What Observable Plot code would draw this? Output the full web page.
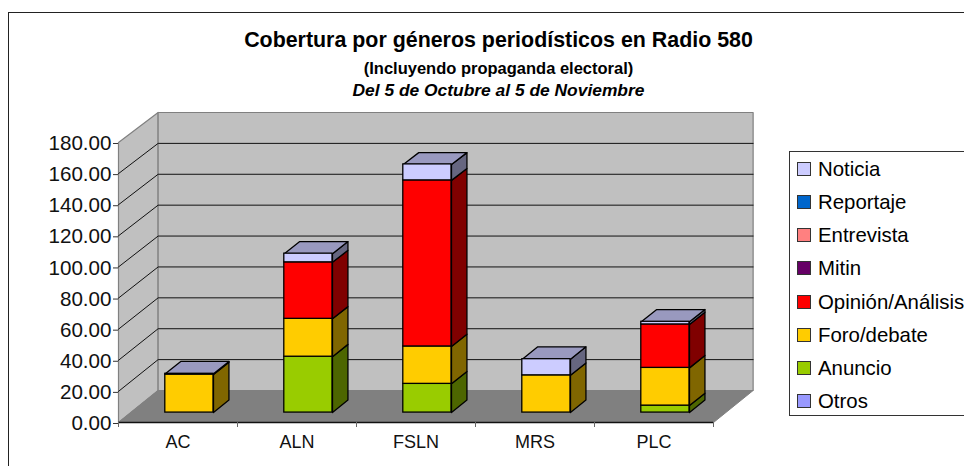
<!DOCTYPE html>
<html><head><meta charset="utf-8">
<script src="https://cdn.jsdelivr.net/npm/d3@7"></script>
<script src="https://cdn.jsdelivr.net/npm/@observablehq/plot@0.6"></script>
<style>
html,body{margin:0;padding:0;background:#fff;overflow:hidden;width:964px;height:466px;font-family:"Liberation Sans",Arial,sans-serif;color:#000}
#wrap{position:relative;width:964px;height:466px;overflow:hidden}
#frame{position:absolute;left:7.5px;top:12px;width:1000px;height:500px;border:1.5px solid #222;box-sizing:border-box}
#chart{position:absolute;left:0;top:0}
.t{position:absolute;left:0;width:997px;text-align:center;white-space:nowrap;transform:translateY(-50%)}
#legend{position:absolute;left:789px;top:151px;width:300px;height:265px;border:1px solid #333;box-sizing:border-box;background:#fff}
.row{position:absolute;left:7px;font-size:20.4px;line-height:22px;white-space:nowrap;transform:translateY(-50%)}
.sw{position:absolute;left:0;top:4px;width:14px;height:14px;border:1px solid #333;box-sizing:border-box}
.lab{margin-left:21px}
</style></head><body>
<div id="wrap"><div id="frame"></div><div id="chart"></div>
<div class="t" style="top:40px;font-weight:bold;font-size:21.4px">Cobertura por géneros periodísticos en Radio 580</div>
<div class="t" style="top:68px;font-weight:bold;font-size:16.5px">(Incluyendo propaganda electoral)</div>
<div class="t" style="top:90px;font-weight:bold;font-style:italic;font-size:17.4px">Del 5 de Octubre al 5 de Noviembre</div>
<div id="legend"></div></div>
<script>
const categories = ["AC","ALN","FSLN","MRS","PLC"];
const seriesNames = ["Otros","Anuncio","Foro/debate","Opinión/Análisis","Mitin","Entrevista","Reportaje","Noticia"];
const seriesColors = ["#9999ff","#99cc00","#ffcc00","#ff0000","#660066","#ff8080","#0066cc","#ccccff"];
const otros      = [0,0,0,0,0];
const anuncio    = [0,36,18.5,0,4.5];
const foro       = [24.5,24.4,24.1,24,24.3];
const opinion    = [0,36.4,107,0,28];
const mitin      = [0,0,0,0,0];
const entrevista = [0,0,0,0,0];
const reportaje  = [0,0,0,0,0];
const noticia    = [0.5,5.6,10.3,10.4,1.7];
const allSeries = [otros,anuncio,foro,opinion,mitin,entrevista,reportaje,noticia];
const yTicks = d3.range(0,181,20);
const xBounds = [0,1,2,3,4,5];

// oblique "3-D" projection expressed in data units
const depthX = 0.333;
const px = (i,d) => i + d*depthX;
const py = (v,d) => v + d*(20.57 - 0.00714*v);
const shade = (c,k) => { const r=d3.rgb(c); return d3.rgb(r.r*k,r.g*k,r.b*k).formatHex(); };

const polys = [];
let pid = 0;
function poly(pts, fill, layer){ const id=pid++; [...pts,pts[0]].forEach(([i,v,d])=>polys.push({id,layer,fill,x:px(i,d),y:py(v,d)})); }

// walls and floor
poly([[0,0,0],[0,180,0],[0,180,1],[0,0,1]],"#c0c0c0","wall");
poly([[0,0,1],[0,180,1],[5,180,1],[5,0,1]],"#c0c0c0","wall");
poly([[0,0,0],[5,0,0],[5,0,1],[0,0,1]],"#808080","floor");

// wall grid lines
const grid = [];
yTicks.slice(1,-1).forEach(v=>{
  [[0,0],[0,1],[5,1]].forEach(([i,d])=>grid.push({v,x:px(i,d),y:py(v,d)}));
});

// bars
const d0=0.31, d1=0.70, bL=0.29, bR=0.695;
const fronts=[];
categories.forEach((cat,ci)=>{
  let base=0, lastColor=null;
  allSeries.forEach((s,si)=>{
    const val=s[ci]; if(!val) return;
    const top=base+val, c=seriesColors[si];
    poly([[ci+bR,base,d0],[ci+bR,top,d0],[ci+bR,top,d1],[ci+bR,base,d1]],shade(c,.5),"bar");
    fronts.push({x1:px(ci+bL,d0),x2:px(ci+bR,d0),y1:py(base,d0),y2:py(top,d0),fill:c,cat,serie:seriesNames[si],val});
    base=top; lastColor=c;
  });
  poly([[ci+bL,base,d0],[ci+bR,base,d0],[ci+bR,base,d1],[ci+bL,base,d1]],shade(lastColor,.75),"bar");
});

const labels = categories.map((c,i)=>({c,x:i+.5}));
const pl = Plot.plot({
  width:964,height:466,
  marginLeft:118,marginRight:251,marginTop:142,marginBottom:44,
  style:{background:"transparent",fontFamily:"'Liberation Sans',Arial,sans-serif"},
  x:{domain:[0,5],range:[118,713]},
  y:{domain:[0,180],range:[422,142]},
  marks:[
    Plot.line(polys.filter(d=>d.layer==="wall"),{x:"x",y:"y",z:"id",fill:d=>d.fill,stroke:"#808080",strokeWidth:1.2}),
    Plot.line(grid,{x:"x",y:"y",z:"v",stroke:"#111",strokeWidth:1}),
    Plot.line(polys.filter(d=>d.layer==="floor"),{x:"x",y:"y",z:"id",fill:d=>d.fill,stroke:"#808080",strokeWidth:1}),
    Plot.line(polys.filter(d=>d.layer==="bar"),{x:"x",y:"y",z:"id",fill:d=>d.fill,stroke:"#000",strokeWidth:1.3,strokeLinejoin:"round"}),
    Plot.rect(fronts,{x1:"x1",x2:"x2",y1:"y1",y2:"y2",fill:d=>d.fill,stroke:"#000",strokeWidth:1.3}),
    Plot.ruleY([0],{x1:0,x2:5,stroke:"#111",strokeWidth:1.5}),
    Plot.axisY({ticks:yTicks,tickFormat:".2f",tickSize:5,tickPadding:2,fontSize:20.6,label:null,stroke:"#333",color:"#111",textStroke:"none",dy:1}),
    Plot.axisX({ticks:xBounds,tickFormat:()=>"",tickSize:5,label:null,stroke:"#666"}),
    Plot.text(labels,{x:"x",y:()=>0,text:"c",dy:20,fontSize:18,fill:"#111"})
  ]
});
document.getElementById("chart").appendChild(pl);

// legend, top entry = last stacked series
const lg=document.getElementById("legend");
[...seriesNames].reverse().forEach((n,i)=>{
  const row=document.createElement("div");
  row.className="row"; row.style.top=(17+i*33.15)+"px";
  const sw=document.createElement("span"); sw.className="sw";
  sw.style.background=[...seriesColors].reverse()[i];
  const lab=document.createElement("span"); lab.className="lab"; lab.textContent=n;
  row.append(sw,lab); lg.append(row);
});
</script></body></html>
